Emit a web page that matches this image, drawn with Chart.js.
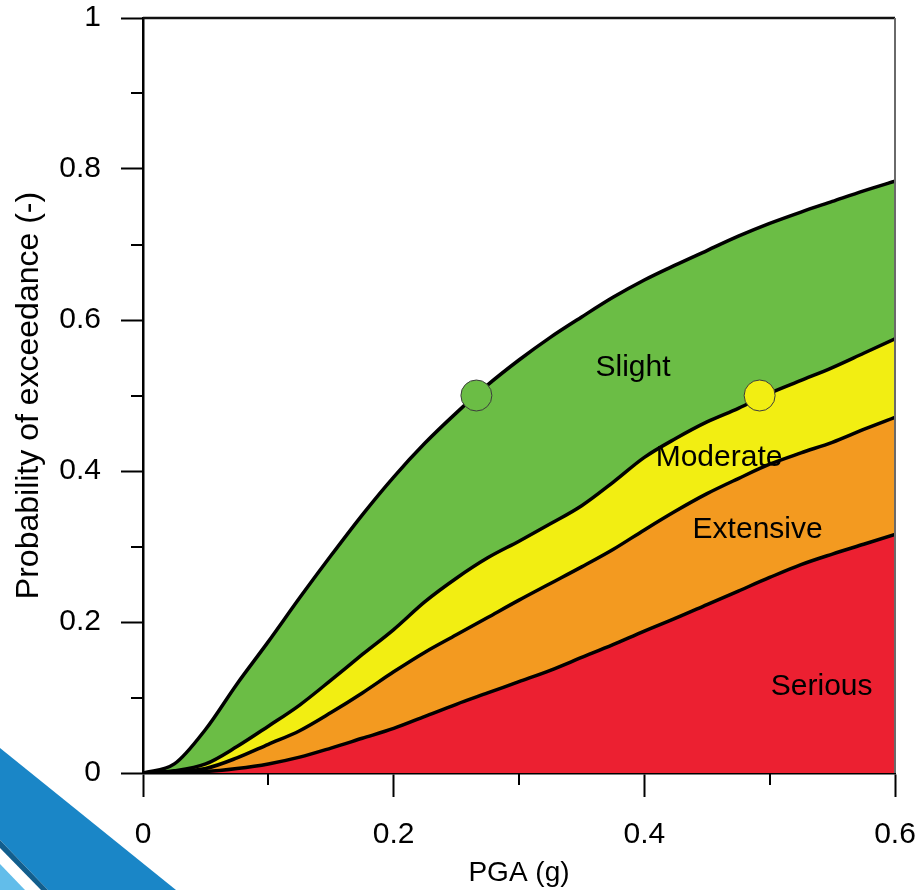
<!DOCTYPE html>
<html lang="en">
<head>
  <meta charset="UTF-8">
  <title>Fragility curves</title>
  <script src="https://cdn.jsdelivr.net/npm/chart.js"></script>
  <style>
    body { margin: 0; background: #fff; }
    canvas { display: block; }
  </style>
</head>
<body>
  <canvas id="fragility" width="921" height="890"></canvas>
  <script>
    // PGA (g) sample positions
    const pga = [0, 0.025, 0.05, 0.075, 0.1, 0.125, 0.15, 0.175, 0.2, 0.225, 0.25, 0.275, 0.3,
      0.325, 0.35, 0.375, 0.4, 0.425, 0.45, 0.475, 0.5, 0.525, 0.55, 0.575, 0.6];
    // probability of exceedance for each damage state
    const slight = [0, 0.012, 0.058, 0.118, 0.174, 0.232, 0.288, 0.342, 0.392, 0.437, 0.477, 0.514, 0.547,
      0.577, 0.604, 0.630, 0.653, 0.673, 0.692, 0.711, 0.728, 0.743, 0.757, 0.771, 0.784];
    const moderate = [0, 0.003, 0.012, 0.035, 0.062, 0.090, 0.123, 0.157, 0.190, 0.227, 0.258, 0.285, 0.307,
      0.330, 0.354, 0.385, 0.418, 0.443, 0.465, 0.483, 0.503, 0.520, 0.537, 0.556, 0.575];
    const extensive = [0, 0.002, 0.006, 0.020, 0.038, 0.056, 0.080, 0.106, 0.134, 0.160, 0.183, 0.206, 0.229,
      0.251, 0.273, 0.296, 0.322, 0.347, 0.370, 0.390, 0.409, 0.424, 0.438, 0.455, 0.471];
    const serious = [0, 0.001, 0.002, 0.006, 0.012, 0.021, 0.033, 0.046, 0.059, 0.075, 0.091, 0.106, 0.121,
      0.136, 0.153, 0.170, 0.188, 0.205, 0.223, 0.241, 0.259, 0.276, 0.290, 0.303, 0.316];

    // the two 50% markers
    const markerPga = [0.266, 0.492];
    const markerProb = [0.5, 0.5];

    // region names and where they sit (data coords)
    const regionNames = ['Slight', 'Moderate', 'Extensive', 'Serious'];
    const regionPga = [0.391, 0.4596, 0.4904, 0.5415];
    const regionProb = [0.5364, 0.4172, 0.3219, 0.1139];

    const xTickLabels = ['0', '0.2', '0.4', '0.6'];
    const yTickLabels = ['0', '0.2', '0.4', '0.6', '0.8', '1'];

    const GREEN = '#6BBD45', YELLOW = '#F2EE12', ORANGE = '#F39A20', RED = '#EC2031';
    const FONT = "'Liberation Sans', Arial, sans-serif";

    const toPts = arr => pga.map((x, i) => ({ x: x, y: arr[i] }));
    const isMajor = v => Math.round(v * 10) % 2 === 0;

    function curve(arr, fill, color) {
      return {
        data: toPts(arr), borderColor: '#000', borderWidth: 3.5, pointRadius: 0,
        cubicInterpolationMode: 'monotone', fill: fill, backgroundColor: color,
        borderJoinStyle: 'round', borderCapStyle: 'round'
      };
    }
    function marker(i, color) {
      return {
        type: 'scatter', data: [{ x: markerPga[i], y: markerProb[i] }], showLine: false, fill: false,
        pointRadius: 15.5, pointBackgroundColor: color, pointBorderColor: '#3c3c3c', pointBorderWidth: 1,
        order: -1
      };
    }
    // drop the label overhang so the plot box sits where the reference has it
    function noOverhang(s) {
      s.paddingTop = 0; s.paddingBottom = 0; s.paddingLeft = 0; s.paddingRight = 0;
    }

    const framePlugin = {
      id: 'frame',
      afterDatasetsDraw(chart) {
        const ctx = chart.ctx;
        const x = chart.scales.x, y = chart.scales.y;
        ctx.save();
        ctx.fillStyle = '#000';
        ctx.font = '30px ' + FONT;
        ctx.textAlign = 'center';
        ctx.textBaseline = 'middle';
        regionNames.forEach((n, i) => {
          ctx.fillText(n, x.getPixelForValue(regionPga[i]), y.getPixelForValue(regionProb[i]));
        });
        ctx.restore();
      },
      afterDraw(chart) {
        const ctx = chart.ctx, a = chart.chartArea;
        const x = chart.scales.x, y = chart.scales.y;
        ctx.save();
        // top and right edges
        ctx.lineWidth = 2.5;
        ctx.strokeStyle = '#111';
        ctx.beginPath();
        ctx.moveTo(a.left, a.top); ctx.lineTo(a.right, a.top);
        ctx.stroke();
        ctx.strokeStyle = '#6a6a6a';
        ctx.lineWidth = 2;
        ctx.beginPath();
        ctx.moveTo(a.right, a.top); ctx.lineTo(a.right, a.bottom);
        ctx.stroke();
        // minor ticks
        ctx.strokeStyle = '#000';
        ctx.lineWidth = 2;
        ctx.beginPath();
        y.ticks.forEach(t => {
          if (isMajor(t.value)) return;
          const py = Math.round(y.getPixelForValue(t.value));
          ctx.moveTo(a.left - 12, py); ctx.lineTo(a.left, py);
        });
        x.ticks.forEach(t => {
          if (isMajor(t.value)) return;
          const px = Math.round(x.getPixelForValue(t.value));
          ctx.moveTo(px, a.bottom); ctx.lineTo(px, a.bottom + 12);
        });
        ctx.stroke();
        // slide decoration, bottom-left corner
        ctx.fillStyle = '#1A86C7';
        ctx.beginPath();
        ctx.moveTo(0, 748); ctx.lineTo(176, 890); ctx.lineTo(48, 890); ctx.lineTo(0, 840);
        ctx.closePath(); ctx.fill();
        ctx.fillStyle = '#125E8D';
        ctx.beginPath();
        ctx.moveTo(0, 840); ctx.lineTo(48, 890); ctx.lineTo(41, 890); ctx.lineTo(0, 848);
        ctx.closePath(); ctx.fill();
        ctx.fillStyle = '#62BDEA';
        ctx.beginPath();
        ctx.moveTo(0, 864); ctx.lineTo(25, 890); ctx.lineTo(0, 890);
        ctx.closePath(); ctx.fill();
        ctx.restore();
      }
    };

    new Chart(document.getElementById('fragility'), {
      type: 'line',
      data: {
        datasets: [
          curve(slight, '+1', GREEN),
          curve(moderate, '+1', YELLOW),
          curve(extensive, '+1', ORANGE),
          curve(serious, 'origin', RED),
          marker(0, GREEN),
          marker(1, YELLOW)
        ]
      },
      options: {
        responsive: false,
        animation: false,
        events: [],
        layout: { padding: { top: 18, right: 26, left: 0, bottom: 0 } },
        plugins: {
          legend: { display: false },
          tooltip: { enabled: false },
          filler: { drawTime: 'beforeDatasetsDraw' }
        },
        scales: {
          x: {
            type: 'linear', min: 0, max: 0.6,
            afterFit: s => { s.height = 117; noOverhang(s); },
            ticks: {
              stepSize: 0.1, padding: 20, color: '#000', maxRotation: 0, autoSkip: false,
              font: { family: FONT, size: 30 },
              callback: v => isMajor(v) ? xTickLabels[Math.round(v * 5)] : ''
            },
            grid: {
              drawOnChartArea: false, tickLength: 24, tickWidth: 2,
              tickColor: c => isMajor(c.tick.value) ? '#000' : 'rgba(0,0,0,0)'
            },
            border: { display: true, color: '#000', width: 2.5 },
            title: {
              display: true, text: 'PGA (g)', color: '#000',
              font: { family: FONT, size: 28 }, padding: { top: 0, bottom: 0 }
            }
          },
          y: {
            type: 'linear', min: 0, max: 1,
            afterFit: s => { s.width = 143; noOverhang(s); },
            ticks: {
              stepSize: 0.1, padding: 20, color: '#000', autoSkip: false,
              font: { family: FONT, size: 30 },
              callback: v => isMajor(v) ? yTickLabels[Math.round(v * 5)] : ''
            },
            grid: {
              drawOnChartArea: false, tickLength: 22, tickWidth: 2,
              tickColor: c => isMajor(c.tick.value) ? '#000' : 'rgba(0,0,0,0)'
            },
            border: { display: true, color: '#000', width: 2.5 },
            title: {
              display: true, text: 'Probability of exceedance (-)', color: '#000',
              font: { family: FONT, size: 32 }, padding: { top: 10, bottom: 0 }
            }
          }
        }
      },
      plugins: [framePlugin]
    });
  </script>
</body>
</html>
